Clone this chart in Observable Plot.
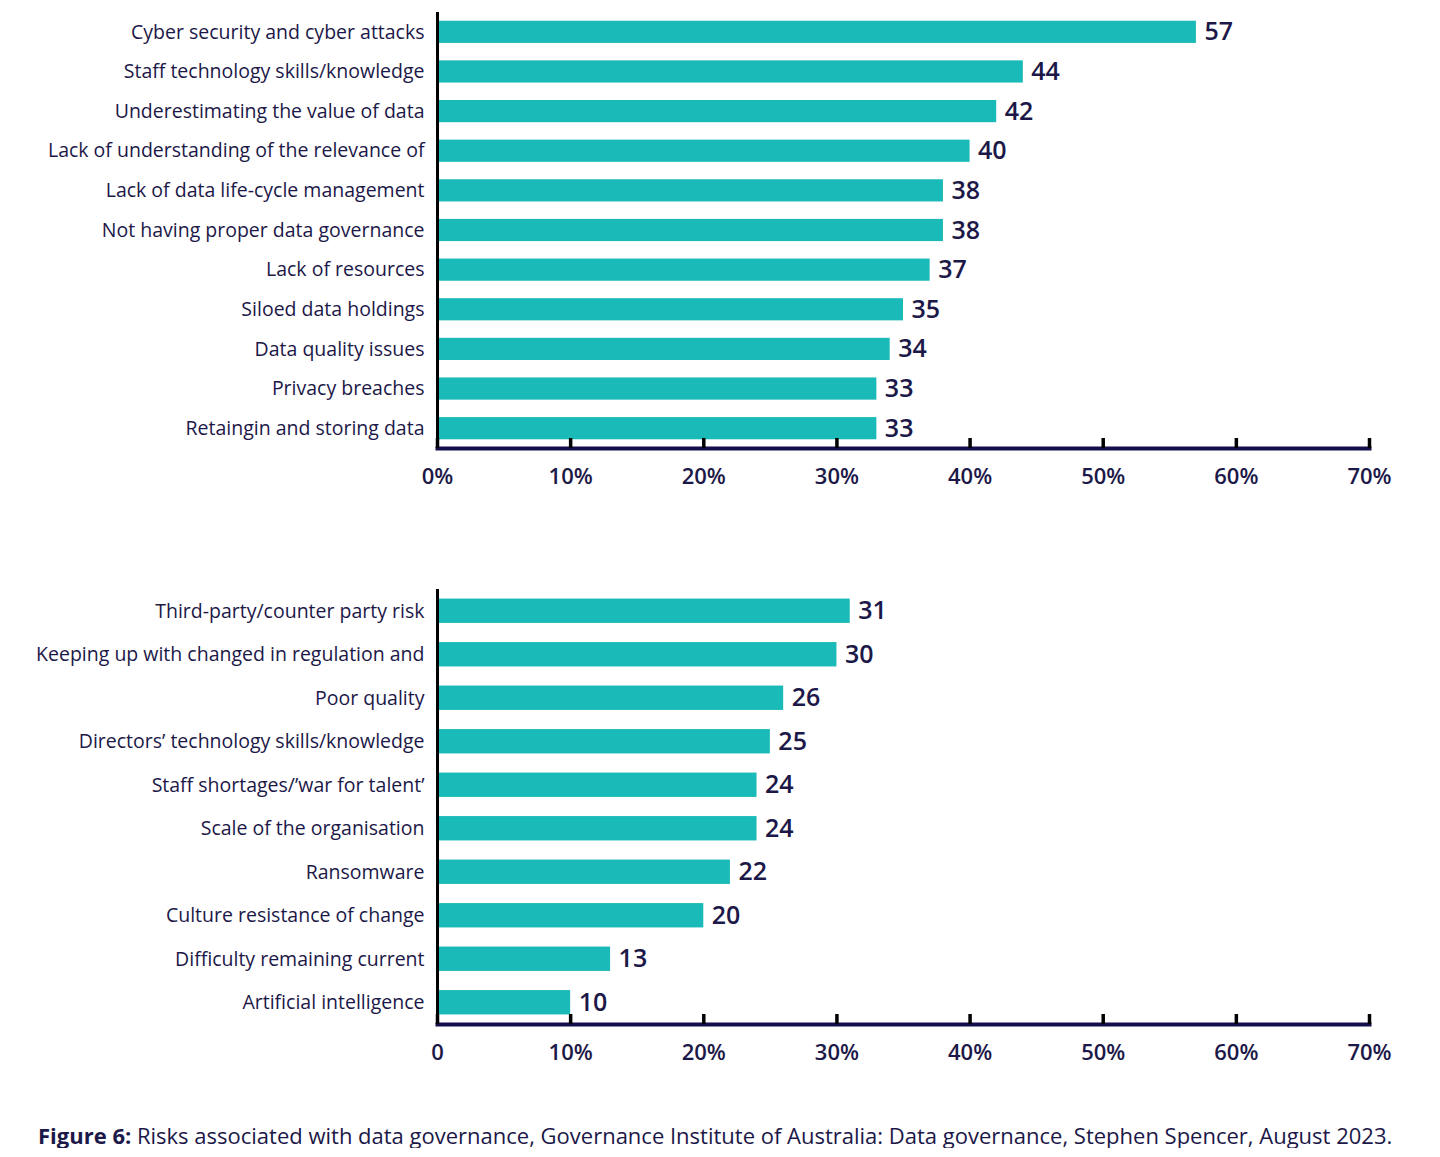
<!DOCTYPE html>
<html>
<head>
<meta charset="utf-8">
<script src="https://cdn.jsdelivr.net/npm/d3@7"></script>
<script src="https://cdn.jsdelivr.net/npm/@observablehq/plot@0.6"></script>
<style>
  html, body { margin: 0; padding: 0; background: #fff; }
  #wrap { width: 1440px; font-family: "Open Sans", "Noto Sans", sans-serif; color: #1c1848; }
  #caption { font-size: 22px; margin: 0; padding: 42px 0 0 38px; color: #1c1848; white-space: nowrap; line-height: 1.2; }
  #caption b { font-weight: 700; }
  svg { display: block; }
</style>
</head>
<body>
<div id="wrap">
  <div id="top"></div>
  <div id="bottom"></div>
  <p id="caption"><b>Figure 6:</b> Risks associated with data governance, Governance Institute of Australia: Data governance, Stephen Spencer, August 2023.</p>
</div>
<script>
const topCategories = [
  "Cyber security and cyber attacks",
  "Staff technology skills/knowledge",
  "Underestimating the value of data",
  "Lack of understanding of the relevance of",
  "Lack of data life-cycle management",
  "Not having proper data governance",
  "Lack of resources",
  "Siloed data holdings",
  "Data quality issues",
  "Privacy breaches",
  "Retaingin and storing data"
];
const topValues = [57, 44, 42, 40, 38, 38, 37, 35, 34, 33, 33];

const bottomCategories = [
  "Third-party/counter party risk",
  "Keeping up with changed in regulation and",
  "Poor quality",
  "Directors\u2019 technology skills/knowledge",
  "Staff shortages/\u2019war for talent\u2019",
  "Scale of the organisation",
  "Ransomware",
  "Culture resistance of change",
  "Difficulty remaining current",
  "Artificial intelligence"
];
const bottomValues = [31, 30, 26, 25, 24, 24, 22, 20, 13, 10];

const xTicks = [0, 10, 20, 30, 40, 50, 60, 70];
const topTickLabels = ["0%", "10%", "20%", "30%", "40%", "50%", "60%", "70%"];
const bottomTickLabels = ["0", "10%", "20%", "30%", "40%", "50%", "60%", "70%"];

const BAR = "#19bab8";
const INK = "#1c1848";
const FONT = "'Open Sans', 'Noto Sans', sans-serif";

function makeChart(categories, values, tickLabels, height, marginTop, marginBottom) {
  const data = categories.map((c, i) => ({label: c, value: values[i]}));
  return Plot.plot({
    width: 1440,
    height,
    marginLeft: 437,
    marginRight: 71,
    marginTop,
    marginBottom,
    style: {fontFamily: FONT, color: INK, background: "#fff", overflow: "visible"},
    x: {domain: [0, 70], ticks: xTicks, label: null},
    y: {domain: categories, paddingInner: 0.44, paddingOuter: 0.22, align: 0.5, round: false, label: null},
    marks: [
      Plot.barX(data, {x: "value", y: "label", fill: BAR, insetLeft: 1.5}),
      Plot.text(data, {x: "value", y: "label", text: d => String(d.value), dx: 8, textAnchor: "start", fontSize: 25, fontWeight: 600, fill: INK}),
      Plot.ruleX([0], {stroke: "#000", strokeWidth: 3}),
      Plot.frame({anchor: "bottom", stroke: "#140f4a", strokeWidth: 4}),
      Plot.axisX({ticks: xTicks, tickSize: -10, stroke: "#000", strokeWidth: 3.5, text: null, label: null}),
      Plot.axisX({ticks: xTicks, tickSize: 0, tickPadding: 20, fontSize: 22, fill: INK, fontWeight: 600, label: null,
        tickFormat: (d) => tickLabels[xTicks.indexOf(d)]}),
      Plot.axisY({tickSize: 0, tickPadding: 13, fontSize: 19.5, fill: INK, label: null})
    ]
  });
}

document.getElementById("top").append(makeChart(topCategories, topValues, topTickLabels, 505, 12, 57));
document.getElementById("bottom").append(makeChart(bottomCategories, bottomValues, bottomTickLabels, 575, 84, 56));
</script>
</body>
</html>
